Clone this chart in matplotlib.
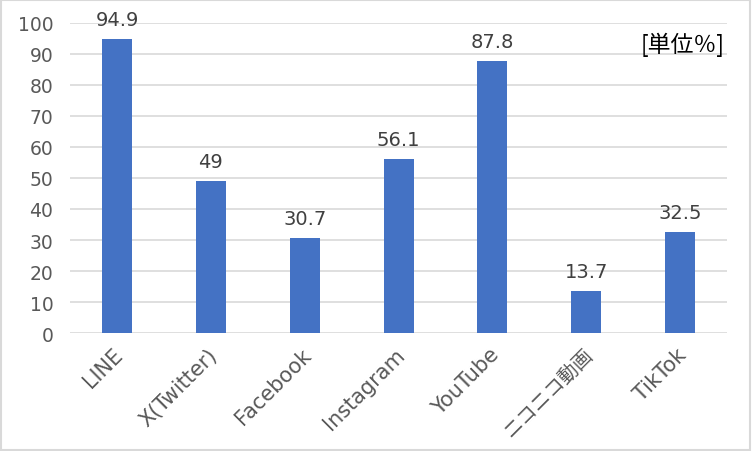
import matplotlib
matplotlib.use("Agg")
import matplotlib.pyplot as plt
from matplotlib.patches import Rectangle
from matplotlib.transforms import ScaledTranslation

plt.rcParams['font.family'] = ['DejaVu Sans', 'Noto Sans CJK JP']

categories = ["LINE", "X(Twitter)", "Facebook", "Instagram", "YouTube", "ニコニコ動画", "TikTok"]
values = [94.9, 49, 30.7, 56.1, 87.8, 13.7, 32.5]
yticks = [0, 10, 20, 30, 40, 50, 60, 70, 80, 90, 100]

fig = plt.figure(figsize=(7.52, 4.52), dpi=100)
ax = fig.add_axes([0.0931, 0.261, 0.8737, 0.686])

ax.bar(range(len(categories)), values, width=0.32, color="#4472C4", zorder=3)
for i, v in enumerate(values):
    ax.annotate(f"{v:g}", (i, v), xytext=(0, 10), textcoords="offset points",
                ha="center", va="baseline", fontsize=14, color="#404040")

ax.set_ylim(0, 100)
ax.set_xlim(-0.5, len(categories) - 0.5)
ax.set_yticks(yticks)
ax.yaxis.grid(True, color="#d9d9d9", linewidth=1.2, zorder=0)
ax.tick_params(axis="y", length=0, labelsize=13.5, labelcolor="#595959", pad=12)
ax.tick_params(axis="x", length=0, labelsize=15, labelcolor="#595959", pad=13)
ax.set_xticks(range(len(categories)))
ax.set_xticklabels(categories, rotation=45, ha="right", va="center", rotation_mode="anchor")
shift = ScaledTranslation(3 / 100, 0, fig.dpi_scale_trans)
for lab in ax.get_xticklabels():
    lab.set_transform(lab.get_transform() + shift)
    if lab.get_text() == "ニコニコ動画":
        lab.set_fontsize(14)
for s in ax.spines.values():
    s.set_visible(False)

ax.text(0.996, 93.2, "[単位％]", transform=ax.get_yaxis_transform(), ha="right", va="center",
        fontsize=16.5, color="#000000", family=['Noto Sans CJK JP', 'DejaVu Sans'])

fig.patches.append(Rectangle((0.001, 0.002), 0.997, 0.996, transform=fig.transFigure,
                             fill=False, edgecolor="#d9d9d9", linewidth=1.5))

fig.savefig("out.png", dpi=100)
